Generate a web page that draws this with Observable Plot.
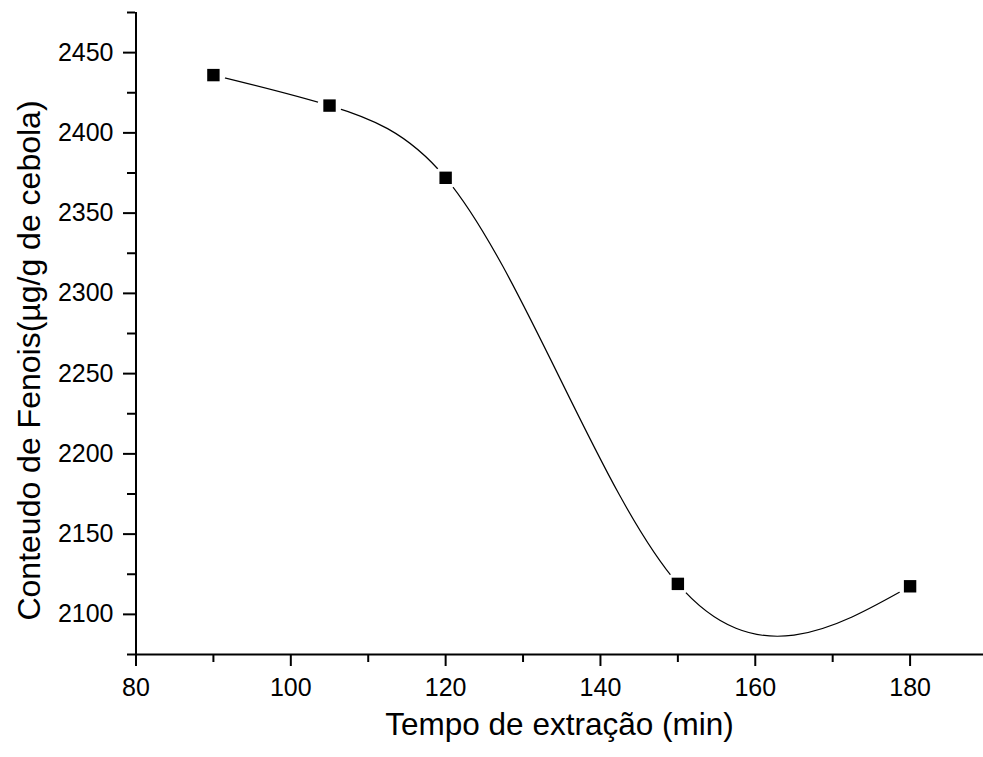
<!DOCTYPE html>
<html><head><meta charset="utf-8">
<script src="https://cdn.jsdelivr.net/npm/d3@7"></script>
<script src="https://cdn.jsdelivr.net/npm/@observablehq/plot@0.6"></script>
<style>body{margin:0;background:#fff}</style>
</head><body><div id="chart"></div>
<script>
const tempo = [90, 105, 120, 150, 180];
const fenois = [2436, 2417, 2372, 2119, 2117.5];
const xTicks = [80, 100, 120, 140, 160, 180];
const xMinor = [90, 110, 130, 150, 170, 190];
const yTicks = [2100, 2150, 2200, 2250, 2300, 2350, 2400, 2450];
const yMinor = [2075, 2125, 2175, 2225, 2275, 2325, 2375, 2425, 2475];
const xLabel = "Tempo de extração (min)";
const yLabel = "Conteudo de Fenois(µg/g de cebola)";
const data = tempo.map((t, i) => ({t, v: fenois[i]}));

// Custom curve: natural cubic spline y(x) (as in Origin's spline connector)
function naturalX(context) { return new NaturalX(context); }
class NaturalX {
  constructor(ctx) { this._context = ctx; }
  areaStart() {}
  areaEnd() {}
  lineStart() { this._x = []; this._y = []; }
  point(x, y) { this._x.push(+x); this._y.push(+y); }
  lineEnd() {
    const X = this._x, Y = this._y, n = X.length, c = this._context;
    if (!n) return;
    c.moveTo(X[0], Y[0]);
    if (n === 1) return;
    if (n === 2) { c.lineTo(X[1], Y[1]); return; }
    const h = [], s = [];
    for (let i = 0; i < n - 1; i++) { h[i] = X[i + 1] - X[i]; s[i] = (Y[i + 1] - Y[i]) / h[i]; }
    const a = [], b = [], cc = [], d = [];
    for (let i = 1; i < n - 1; i++) {
      a[i] = h[i - 1]; b[i] = 2 * (h[i - 1] + h[i]); cc[i] = h[i]; d[i] = 6 * (s[i] - s[i - 1]);
    }
    for (let i = 2; i < n - 1; i++) {
      const w = a[i] / b[i - 1];
      b[i] -= w * cc[i - 1];
      d[i] -= w * d[i - 1];
    }
    const M = new Array(n).fill(0);
    for (let i = n - 2; i >= 1; i--) M[i] = (d[i] - cc[i] * M[i + 1]) / b[i];
    for (let i = 0; i < n - 1; i++) {
      const d0 = s[i] - h[i] * (2 * M[i] + M[i + 1]) / 6;
      const d1 = s[i] + h[i] * (M[i] + 2 * M[i + 1]) / 6;
      c.bezierCurveTo(X[i] + h[i] / 3, Y[i] + h[i] / 3 * d0,
                      X[i + 1] - h[i] / 3, Y[i + 1] - h[i] / 3 * d1,
                      X[i + 1], Y[i + 1]);
    }
  }
}

const chart = Plot.plot({
  width: 983, height: 757,
  marginLeft: 135, marginRight: 0, marginTop: 12, marginBottom: 103,
  style: {fontFamily: "'Liberation Sans', Arial, sans-serif", background: "white", color: "black", overflow: "hidden"},
  x: {domain: [80, 190], range: [135.5, 987]},
  y: {domain: [2075, 2475]},
  marks: [
    Plot.line(data, {x: "t", y: "v", curve: naturalX, stroke: "black", strokeWidth: 1.2}),
    Plot.dot(data, {x: "t", y: "v", r: 12, fill: "white", stroke: null}),
    Plot.dot(data, {x: "t", y: "v", symbol: "square", r: 7, fill: "black"}),
    Plot.axisX({ticks: xTicks, tickSize: 12, tickPadding: 12, fontSize: 25, strokeWidth: 2, label: null, tickFormat: "d"}),
    Plot.axisX({ticks: xMinor, tickSize: 8, text: null, strokeWidth: 2, label: null}),
    Plot.axisY({ticks: yTicks, tickSize: 12, tickPadding: 10, fontSize: 25, strokeWidth: 2, label: null, tickFormat: "d"}),
    Plot.axisY({ticks: yMinor, tickSize: 8, text: null, strokeWidth: 2, label: null}),
    Plot.ruleY([2075], {strokeWidth: 2}),
    Plot.ruleX([80], {strokeWidth: 2}),
    Plot.text([xLabel], {text: d => d, frameAnchor: "bottom", dy: 80, fontSize: 31.5}),
    Plot.text([yLabel], {text: d => d, frameAnchor: "left", textAnchor: "middle", rotate: -90, dx: -106, dy: 27, fontSize: 32})
  ]
});
document.getElementById("chart").append(chart);
</script>
</body></html>
